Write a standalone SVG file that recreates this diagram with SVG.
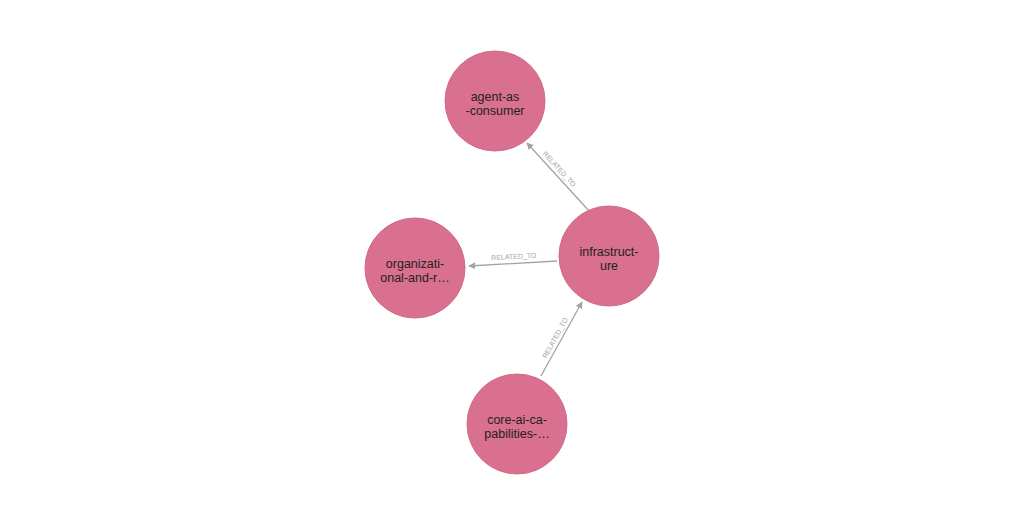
<svg xmlns="http://www.w3.org/2000/svg" width="1024" height="525" viewBox="0 0 1024 525">
<style>
.n{fill:#d9708f;stroke:#d06a89;stroke-width:1}
.t{font-family:"Liberation Sans",Arial,sans-serif;font-size:12.5px;fill:#222;text-anchor:middle}
.e{stroke:#a0a4a8;stroke-width:1.3;fill:none;marker-end:url(#a)}
.l{font-family:"Liberation Sans",Arial,sans-serif;font-size:7px;fill:#a0a4a8;text-anchor:middle}
</style>
<defs><marker id="a" viewBox="0 0 10 10" refX="9" refY="5" markerWidth="7" markerHeight="7" orient="auto" markerUnits="userSpaceOnUse"><path d="M0,0L10,5L0,10z" fill="#a0a4a8"/></marker></defs>
<rect width="1024" height="525" fill="#fff"/>
<g id="edges">
<line class="e" x1="590" y1="212" x2="527" y2="143"/>
<text class="l" transform="translate(556,172) rotate(47.6)" dy="-2">RELATED_TO</text>
<line class="e" x1="557" y1="261" x2="469" y2="266"/>
<text class="l" transform="translate(514,260) rotate(-3.2)" dy="-1">RELATED_TO</text>
<line class="e" x1="541" y1="376" x2="582" y2="302"/>
<text class="l" transform="translate(559,340) rotate(-61)" dy="-2">RELATED_TO</text>
</g>
<g id="agent"><circle class="n" cx="495" cy="101" r="50"/><text class="t" x="495" y="101">agent-as</text><text class="t" x="495" y="115">-consumer</text></g>
<g id="infrastructure"><circle class="n" cx="609" cy="256" r="50"/><text class="t" x="609" y="256">infrastruct-</text><text class="t" x="609" y="270">ure</text></g>
<g id="organizational"><circle class="n" cx="415" cy="268" r="50"/><text class="t" x="415" y="268">organizati-</text><text class="t" x="415" y="282">onal-and-r…</text></g>
<g id="core"><circle class="n" cx="517" cy="424" r="50"/><text class="t" x="517" y="424">core-ai-ca-</text><text class="t" x="517" y="438">pabilities-…</text></g>
</svg>
